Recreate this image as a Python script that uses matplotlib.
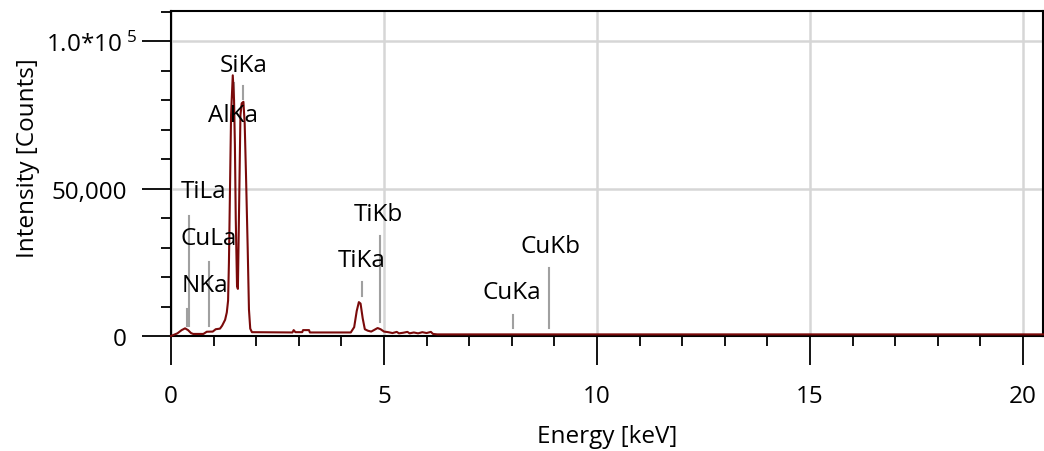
import matplotlib
matplotlib.use('Agg')
import matplotlib.pyplot as plt
from matplotlib.ticker import MultipleLocator, FixedLocator, FixedFormatter
from matplotlib.transforms import ScaledTranslation

plt.rcParams['font.family'] = ['Open Sans', 'DejaVu Sans']
plt.rcParams['mathtext.fontset'] = 'custom'
plt.rcParams['mathtext.rm'] = 'Open Sans'
plt.rcParams['mathtext.it'] = 'Open Sans:italic'

# EDS spectrum, energy [keV] vs counts
energy = [0.00, 0.05, 0.15, 0.25, 0.33, 0.40, 0.47, 0.52, 0.76, 0.84, 0.98, 1.05,
          1.15, 1.20, 1.27, 1.31, 1.34, 1.36, 1.39, 1.41, 1.45, 1.48, 1.50, 1.52,
          1.55, 1.57, 1.60, 1.63, 1.66, 1.70, 1.73, 1.76, 1.80, 1.83, 1.86, 1.90,
          2.85, 2.88, 2.92, 3.08, 3.10, 3.24, 3.26, 4.22, 4.30, 4.36, 4.41, 4.45,
          4.50, 4.55, 4.62, 4.70, 4.80, 4.85, 4.92, 5.00, 5.10, 5.20, 5.30, 5.35,
          5.45, 5.55, 5.60, 5.70, 5.80, 5.90, 6.00, 6.10, 6.15, 6.25, 20.47]
counts = [0, 300, 900, 2000, 2600, 2000, 1000, 700, 700, 1450, 1500, 2300,
          2500, 3500, 5500, 8000, 12000, 25000, 55000, 75000, 88500, 80000, 65000, 40000,
          17000, 16000, 45000, 75000, 79000, 79500, 72000, 55000, 30000, 9000, 2500, 1300,
          1200, 2000, 1300, 1300, 2000, 2000, 1200, 1200, 3000, 8500, 11500, 11000,
          6000, 2300, 1800, 1500, 2300, 2700, 2300, 1500, 1300, 1000, 1400, 900,
          1100, 1400, 900, 1200, 900, 1300, 1000, 1400, 700, 550, 550]

# element line markers (energy, marker bottom, marker top) and label anchors
lines = ['NKa', 'TiLa', 'CuLa', 'AlKa', 'SiKa', 'TiKa', 'TiKb', 'CuKa', 'CuKb']
line_e = [0.37, 0.43, 0.90, 1.47, 1.70, 4.48, 4.91, 8.02, 8.87]
line_lo = [3500, 3500, 3500, 80000, 80600, 13500, 4700, 2600, 2600]
line_hi = [9200, 40900, 25000, 86000, 85000, 18300, 34100, 7100, 23000]
label_x = [0.80, 0.775, 0.89, 1.455, 1.71, 4.48, 4.86, 8.00, 8.90]
label_y = [15400, 47200, 31200, 73100, 90100, 23700, 39500, 12900, 28400]

y_ticks = [0, 50000, 100000]
y_labels = ['0', '50,000', '1.0*10$^{\\ 5}$']

FS = 17.5

fig = plt.figure(figsize=(10.44, 4.52), dpi=100)
ax = fig.add_axes([171 / 1044, 115 / 452, 872 / 1044, 325.5 / 452])

ax.plot(energy, counts, color='#7a0a0a', lw=1.5, zorder=4, clip_on=False)
for e, lo, hi in zip(line_e, line_lo, line_hi):
    ax.plot([e, e], [lo, hi], color='#a0a0a0', lw=1.5, zorder=3)
for name, x, y in zip(lines, label_x, label_y):
    ax.text(x, y, name, ha='center', va='baseline', fontsize=FS, color='black', zorder=5)

ax.set_xlim(0, 20.47)
ax.set_ylim(0, 110500)

ax.xaxis.set_major_locator(MultipleLocator(5))
ax.xaxis.set_minor_locator(MultipleLocator(1))
ax.yaxis.set_major_locator(FixedLocator(y_ticks))
ax.yaxis.set_major_formatter(FixedFormatter(y_labels))
ax.yaxis.set_minor_locator(MultipleLocator(10000))

ax.tick_params(which='major', length=21, width=1.3, labelsize=FS, color='black')
ax.tick_params(which='minor', length=7, width=1.3, color='black')
ax.tick_params(axis='x', which='major', pad=13.5)
ax.tick_params(axis='y', which='major', pad=11)

# the exponent label sticks out past the other labels
fig.canvas.draw()
top_lbl = ax.yaxis.get_ticklabels()[2]
top_lbl.set_transform(top_lbl.get_transform() + ScaledTranslation(11 / 100, 0, fig.dpi_scale_trans))

ax.grid(True, which='major', color='#d6d6d6', lw=1.8, zorder=0)
ax.set_axisbelow(True)
for s in ax.spines.values():
    s.set_linewidth(1.5)
    s.set_color('black')

ax.set_xlabel('Energy [keV]', fontsize=FS)
ax.xaxis.set_label_coords(0.5, -0.270)
ax.set_ylabel('Intensity [Counts]', fontsize=FS)
ax.yaxis.set_label_coords(-0.150, 0.551)

fig.savefig('out.png', dpi=100)
